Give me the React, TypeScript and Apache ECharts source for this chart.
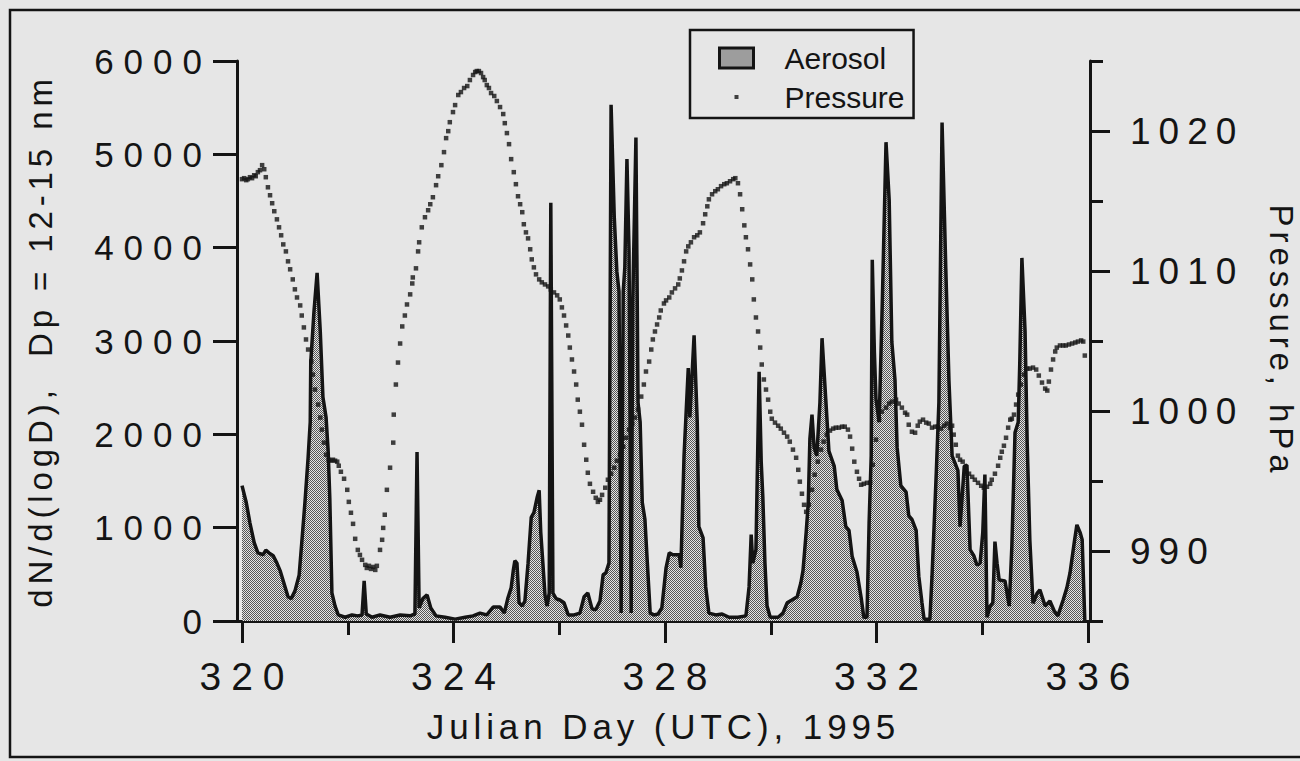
import React, { useEffect, useRef } from 'react';
import * as echarts from 'echarts';

// Aerosol number concentration, dN/d(logD) for Dp = 12-15 nm : [Julian day, value]
const aerosol: [number, number][] = [
  [320.00,1450],[320.08,1270],[320.15,1050],[320.23,840],[320.30,730],[320.40,710],[320.45,760],[320.51,730],[320.59,700],[320.66,620],
  [320.72,540],[320.79,410],[320.87,260],[320.93,240],[321.00,320],[321.08,490],[321.13,840],[321.19,1270],[321.25,1750],[321.29,2130],
  [321.30,2770],[321.36,3310],[321.42,3730],[321.48,3100],[321.53,2400],[321.59,2180],[321.63,1810],[321.66,1320],[321.70,300],[321.76,160],
  [321.82,65],[321.95,40],[322.08,65],[322.19,55],[322.27,65],[322.31,430],[322.35,75],[322.46,40],[322.61,65],[322.80,40],
  [322.99,65],[323.18,55],[323.27,75],[323.31,1810],[323.35,140],[323.42,240],[323.50,280],[323.57,140],[323.67,55],[323.84,40],
  [324.03,20],[324.22,40],[324.37,55],[324.50,85],[324.63,65],[324.75,150],[324.88,150],[324.96,85],[325.03,250],[325.09,355],
  [325.13,540],[325.16,645],[325.20,620],[325.24,195],[325.30,160],[325.35,215],[325.41,620],[325.47,1110],[325.52,1160],[325.58,1320],
  [325.62,1400],[325.65,950],[325.69,620],[325.73,280],[325.77,160],[325.81,300],[325.84,4480],[325.88,300],[325.94,240],[326.01,225],
  [326.09,195],[326.17,65],[326.28,65],[326.39,85],[326.47,260],[326.54,300],[326.62,130],[326.69,120],[326.77,215],[326.83,495],
  [326.88,515],[326.94,620],[326.98,5530],[327.04,4330],[327.09,3740],[327.13,3530],[327.17,85],[327.21,3530],[327.24,3790],[327.28,4950],
  [327.32,3960],[327.36,85],[327.39,3420],[327.45,5180],[327.49,2340],[327.53,2130],[327.57,1270],[327.62,1090],[327.68,480],[327.72,85],
  [327.79,65],[327.87,75],[327.94,140],[328.02,570],[328.08,730],[328.15,710],[328.27,710],[328.30,570],[328.36,1770],[328.44,2710],
  [328.47,2180],[328.55,3060],[328.61,2130],[328.64,1010],[328.72,890],[328.77,365],[328.83,85],[328.96,65],[329.08,75],[329.21,40],
  [329.38,40],[329.53,55],[329.59,365],[329.63,925],[329.66,620],[329.72,765],[329.78,2670],[329.82,1700],[329.85,1330],[329.89,620],
  [329.93,160],[329.99,40],[330.14,40],[330.23,85],[330.31,195],[330.40,225],[330.50,260],[330.57,410],[330.61,540],[330.67,950],
  [330.71,1270],[330.74,1950],[330.78,2210],[330.82,1860],[330.87,1770],[330.93,2340],[330.97,3030],[331.04,2380],[331.10,1820],[331.20,1660],
  [331.25,1410],[331.35,1290],[331.42,1010],[331.48,970],[331.54,690],[331.63,525],[331.71,250],[331.76,40],[331.82,40],[331.86,1050],
  [331.90,1770],[331.92,3870],[331.96,2880],[331.99,2380],[332.05,2130],[332.11,3420],[332.18,5130],[332.24,4510],[332.29,2990],[332.35,2580],
  [332.39,1860],[332.46,1450],[332.56,1380],[332.61,1130],[332.67,1090],[332.75,970],[332.80,480],[332.86,195],[332.90,20],[333.01,20],
  [333.05,480],[333.13,1580],[333.18,2340],[333.24,5340],[333.31,3790],[333.37,2580],[333.43,1770],[333.48,1700],[333.54,1610],[333.58,1010],
  [333.66,1660],[333.71,1670],[333.77,765],[333.84,700],[333.90,600],[333.96,620],[334.01,950],[334.05,1570],[334.09,40],[334.15,160],
  [334.20,195],[334.24,850],[334.28,620],[334.32,440],[334.43,430],[334.51,160],[334.56,800],[334.62,2020],[334.68,2130],[334.71,2770],
  [334.75,3890],[334.81,3100],[334.85,1910],[334.90,870],[334.96,190],[335.04,300],[335.09,335],[335.19,160],[335.28,215],[335.36,110],
  [335.43,55],[335.53,225],[335.60,355],[335.66,515],[335.74,840],[335.79,1030],[335.85,950],[335.89,870],[335.94,0],
];

// Surface pressure, hPa : [Julian day, value]
const pressure: [number, number][] = [
  [320.00,1016.56],[320.04,1016.63],[320.08,1016.49],[320.11,1016.56],[320.15,1016.70],[320.19,1016.63],[320.23,1016.84],[320.26,1016.77],
  [320.30,1017.06],[320.34,1017.20],[320.38,1017.56],[320.42,1017.27],[320.45,1016.70],[320.49,1015.98],[320.53,1015.41],[320.57,1014.84],
  [320.61,1014.27],[320.66,1013.69],[320.70,1013.12],[320.74,1012.55],[320.78,1011.90],[320.83,1011.40],[320.87,1010.69],[320.91,1010.12],
  [320.96,1009.40],[321.00,1008.69],[321.04,1008.11],[321.10,1007.54],[321.13,1006.82],[321.17,1005.97],[321.21,1005.11],[321.25,1004.39],
  [321.31,1003.53],[321.34,1002.60],[321.38,1001.53],[321.44,1000.46],[321.48,999.53],[321.51,998.67],[321.55,997.74],[321.59,996.88],
  [321.64,996.52],[321.68,996.45],[321.72,996.52],[321.76,996.45],[321.80,996.38],[321.83,996.09],[321.87,995.66],[321.93,995.16],
  [321.99,994.37],[322.02,993.51],[322.06,992.73],[322.10,991.94],[322.14,990.87],[322.19,990.08],[322.23,989.72],[322.27,989.37],
  [322.33,989.01],[322.36,988.79],[322.40,988.94],[322.44,988.72],[322.48,988.86],[322.52,988.65],[322.55,988.94],[322.61,990.08],
  [322.65,990.80],[322.67,991.65],[322.70,992.59],[322.74,994.37],[322.80,995.95],[322.86,997.74],[322.87,999.74],[322.91,1001.89],
  [322.95,1003.46],[322.99,1004.82],[323.03,1006.04],[323.08,1006.82],[323.12,1007.61],[323.18,1008.33],[323.22,1009.11],[323.23,1009.54],
  [323.29,1010.19],[323.33,1011.40],[323.35,1012.05],[323.40,1013.12],[323.46,1013.84],[323.52,1014.34],[323.56,1014.77],[323.61,1015.27],
  [323.67,1016.13],[323.71,1016.77],[323.77,1017.56],[323.82,1018.49],[323.86,1019.49],[323.90,1019.99],[323.93,1020.63],[323.99,1021.35],
  [324.03,1021.85],[324.09,1022.57],[324.14,1022.78],[324.20,1023.07],[324.26,1023.21],[324.31,1023.64],[324.37,1024.00],[324.41,1024.21],
  [324.44,1024.28],[324.48,1024.28],[324.52,1024.14],[324.56,1023.85],[324.59,1023.64],[324.63,1023.28],[324.67,1023.07],[324.71,1022.71],
  [324.77,1022.50],[324.82,1022.14],[324.88,1021.71],[324.94,1021.21],[324.97,1020.56],[325.01,1019.85],[325.05,1019.06],[325.09,1017.99],
  [325.14,1017.06],[325.18,1016.20],[325.22,1015.34],[325.26,1014.77],[325.30,1014.20],[325.33,1013.34],[325.37,1012.76],[325.41,1012.33],
  [325.45,1011.55],[325.48,1010.83],[325.52,1010.26],[325.56,1009.76],[325.62,1009.40],[325.67,1009.19],[325.73,1009.04],[325.79,1008.90],
  [325.84,1008.68],[325.90,1008.47],[325.96,1008.26],[326.01,1007.97],[326.05,1007.40],[326.09,1006.82],[326.13,1006.11],[326.17,1005.39],
  [326.20,1004.53],[326.24,1003.68],[326.28,1002.82],[326.32,1001.89],[326.35,1000.81],[326.39,999.95],[326.43,999.02],[326.47,997.59],
  [326.51,996.52],[326.54,995.59],[326.58,994.80],[326.64,994.23],[326.69,993.80],[326.73,993.51],[326.77,993.66],[326.81,994.01],
  [326.87,994.52],[326.92,995.09],[326.98,995.52],[327.04,995.95],[327.09,996.45],[327.15,996.88],[327.21,997.45],[327.26,998.09],
  [327.32,998.67],[327.38,999.10],[327.43,999.53],[327.49,1000.10],[327.55,1001.03],[327.60,1001.89],[327.64,1002.82],[327.70,1003.53],
  [327.74,1004.39],[327.77,1005.11],[327.81,1005.68],[327.85,1006.18],[327.89,1006.68],[327.92,1007.18],[327.98,1007.68],[328.02,1007.90],
  [328.08,1008.11],[328.13,1008.47],[328.19,1008.76],[328.25,1009.04],[328.28,1009.47],[328.32,1010.04],[328.36,1010.69],[328.40,1011.40],
  [328.44,1011.76],[328.49,1012.05],[328.55,1012.41],[328.61,1012.55],[328.66,1012.76],[328.72,1013.41],[328.76,1014.05],[328.80,1014.62],
  [328.83,1015.12],[328.89,1015.48],[328.95,1015.70],[329.00,1015.84],[329.06,1016.06],[329.12,1016.20],[329.17,1016.27],[329.23,1016.41],
  [329.29,1016.56],[329.33,1016.63],[329.38,1016.27],[329.42,1015.48],[329.46,1014.41],[329.50,1013.26],[329.53,1012.41],[329.57,1011.55],
  [329.61,1010.47],[329.65,1009.40],[329.68,1007.97],[329.72,1006.68],[329.76,1005.68],[329.80,1004.53],[329.83,1003.32],[329.87,1002.25],
  [329.91,1001.53],[329.95,1000.81],[329.99,999.95],[330.02,999.45],[330.08,999.17],[330.14,998.95],[330.19,998.74],[330.25,998.45],
  [330.31,998.17],[330.36,997.81],[330.42,997.24],[330.48,996.66],[330.52,995.80],[330.55,994.95],[330.59,994.09],[330.63,993.30],
  [330.67,992.80],[330.72,993.30],[330.78,994.37],[330.83,995.45],[330.89,996.38],[330.95,997.24],[331.00,997.81],[331.06,998.31],
  [331.12,998.60],[331.18,998.74],[331.23,998.81],[331.29,998.81],[331.35,998.88],[331.40,998.88],[331.46,998.67],[331.50,998.17],
  [331.54,997.31],[331.58,996.38],[331.63,995.66],[331.67,995.16],[331.71,994.73],[331.76,994.80],[331.82,994.87],[331.88,994.87],
  [331.93,996.16],[331.99,997.95],[332.05,999.38],[332.10,999.95],[332.18,1000.24],[332.24,1000.53],[332.29,1000.67],[332.37,1000.81],
  [332.42,1000.53],[332.48,1000.24],[332.54,999.88],[332.58,999.74],[332.61,999.02],[332.67,998.52],[332.73,998.45],[332.78,998.95],
  [332.82,999.24],[332.88,999.38],[332.94,999.17],[332.99,999.10],[333.05,998.81],[333.11,998.88],[333.16,998.88],[333.22,998.74],
  [333.28,998.95],[333.33,999.10],[333.39,998.81],[333.43,998.95],[333.46,998.31],[333.50,997.59],[333.54,996.81],[333.58,996.52],
  [333.63,996.38],[333.69,995.95],[333.75,995.52],[333.81,995.30],[333.86,995.09],[333.92,994.87],[333.98,994.66],[334.03,994.52],
  [334.09,994.59],[334.15,994.80],[334.18,995.09],[334.24,995.52],[334.30,996.09],[334.34,996.66],[334.37,997.09],[334.41,997.52],
  [334.45,998.09],[334.49,998.81],[334.53,999.38],[334.56,999.45],[334.60,999.74],[334.64,1000.46],[334.68,1001.17],[334.73,1001.89],
  [334.79,1002.60],[334.85,1003.03],[334.90,1003.03],[334.96,1003.10],[335.02,1002.96],[335.07,1002.53],[335.13,1002.03],[335.19,1001.60],
  [335.23,1001.46],[335.26,1002.10],[335.30,1002.96],[335.34,1003.68],[335.38,1004.25],[335.41,1004.53],[335.47,1004.68],[335.53,1004.68],
  [335.58,1004.68],[335.64,1004.75],[335.70,1004.82],[335.76,1004.89],[335.81,1004.96],[335.87,1005.04],[335.91,1004.96],[335.94,1003.96],
];

const xLabelTicks = [320, 324, 328, 332, 336];
const xMinorTicks = [322, 326, 330, 334];
const pressureLabelTicks = [990, 1000, 1010, 1020];
const pressureMinorTicks = [985, 995, 1005, 1015, 1025];

const INK = '#141414';
const BG = '#e6e6e6';
const TICK_L = "'Liberation Sans', Helvetica, sans-serif";
const TICK_R = "'Liberation Sans', Arial, sans-serif";
const TICK_X = "'Liberation Sans', 'Nimbus Sans', sans-serif";
const TITLE = "'Liberation Sans', FreeSans, sans-serif";
const LEGEND_FONT = "'Liberation Sans', sans-serif";

const css = `
text[style*="Helvetica"] { letter-spacing: 10px; }
text[style*="Arial"] { letter-spacing: 8px; }
text[style*="Nimbus"] { letter-spacing: 10px; }
text[style*="FreeSans"] { letter-spacing: 4.9px; }
`;

const plain = (v: number) => String(v);

function stipple(): string {
  const c = document.createElement('canvas');
  c.width = 2;
  c.height = 2;
  const ctx = c.getContext('2d')!;
  ctx.fillStyle = '#e4e4e4';
  ctx.fillRect(0, 0, 2, 2);
  ctx.fillStyle = '#555555';
  ctx.fillRect(0, 0, 1, 1);
  ctx.fillRect(1, 1, 1, 1);
  return c.toDataURL();
}

export default function App() {
  const ref = useRef<HTMLDivElement>(null);
  useEffect(() => {
    if (!ref.current) return;
    const chart = echarts.init(ref.current, null, { renderer: 'svg' });
    const pattern: any = { image: stipple(), repeat: 'repeat', imageWidth: 2, imageHeight: 2 };
    const axisLine = { color: INK, width: 3 };
    const xMin = 319.905;
    const xMax = 336.038;
    chart.setOption({
      animation: false,
      backgroundColor: 'transparent',
      grid: { left: 237, right: 210, top: 61, bottom: 140, containLabel: false, outerBoundsMode: 'none' },
      legend: {
        orient: 'vertical',
        left: 690,
        top: 30,
        itemWidth: 34,
        itemHeight: 20,
        itemGap: 9,
        padding: [13, 9, 6, 28],
        borderColor: INK,
        borderWidth: 2.5,
        selectedMode: false,
        textStyle: { fontSize: 30, fontFamily: LEGEND_FONT, color: INK, padding: [0, 0, 0, 26] },
        data: [
          { name: 'Aerosol', icon: 'rect', itemStyle: { color: pattern, borderColor: INK, borderWidth: 3 } },
          { name: 'Pressure', icon: 'path://M0 0M34 20M15 8h4v4h-4z', itemStyle: { color: INK, borderWidth: 0 } },
        ],
      },
      xAxis: [
        {
          type: 'value', min: xMin, max: xMax, position: 'bottom',
          axisLine: { show: true, onZero: false, lineStyle: axisLine },
          axisTick: { show: true, customValues: xLabelTicks, length: 22, lineStyle: axisLine },
          axisLabel: { customValues: xLabelTicks, formatter: plain, fontSize: 39, fontFamily: TICK_X, color: INK, margin: 36, padding: [0, 0, 0, 10] },
          splitLine: { show: false },
          name: 'Julian Day (UTC), 1995', nameLocation: 'middle', nameGap: 88,
          nameTextStyle: { fontSize: 35, fontFamily: TITLE, color: INK },
        },
        {
          type: 'value', min: xMin, max: xMax, position: 'bottom',
          axisLine: { show: false, onZero: false },
          axisTick: { show: true, customValues: xMinorTicks, length: 14, lineStyle: axisLine },
          axisLabel: { show: false },
          splitLine: { show: false },
        },
      ],
      yAxis: [
        {
          type: 'value', min: 0, max: 6000, interval: 1000, position: 'left',
          axisLine: { show: true, onZero: false, lineStyle: axisLine },
          axisTick: { show: true, length: 24, lineStyle: axisLine },
          axisLabel: { formatter: plain, fontSize: 35, fontFamily: TICK_L, color: INK, margin: 25 },
          splitLine: { show: false },
          name: 'dN/d(logD),  Dp = 12-15 nm', nameLocation: 'middle', nameRotate: 90, nameGap: 180,
          nameTextStyle: { fontSize: 33, fontFamily: TITLE, color: INK },
        },
        {
          type: 'value', min: 985, max: 1025, position: 'right',
          axisLine: { show: true, onZero: false, lineStyle: axisLine },
          axisTick: { show: true, customValues: pressureLabelTicks, length: 20, lineStyle: axisLine },
          axisLabel: { customValues: pressureLabelTicks, formatter: plain, fontSize: 37, fontFamily: TICK_R, color: INK, margin: 40 },
          splitLine: { show: false },
          name: 'Pressure, hPa', nameLocation: 'middle', nameRotate: -90, nameGap: 175,
          nameTextStyle: { fontSize: 33, fontFamily: TITLE, color: INK },
        },
        {
          type: 'value', min: 985, max: 1025, position: 'right',
          axisLine: { show: false, onZero: false },
          axisTick: { show: true, customValues: pressureMinorTicks, length: 13, lineStyle: axisLine },
          axisLabel: { show: false },
          splitLine: { show: false },
        },
      ],
      series: [
        {
          name: 'Aerosol', type: 'line', xAxisIndex: 0, yAxisIndex: 0, data: aerosol,
          symbol: 'none', showSymbol: false,
          lineStyle: { color: INK, width: 3.5 },
          itemStyle: { color: INK },
          areaStyle: { color: pattern, opacity: 1 },
          z: 2,
        },
        {
          name: 'Pressure', type: 'scatter', xAxisIndex: 0, yAxisIndex: 1, data: pressure,
          symbol: 'rect', symbolSize: 4.5,
          itemStyle: { color: INK },
          z: 3,
        },
      ],
      graphic: [
        {
          type: 'rect', silent: true, z: -10,
          shape: { x: 10, y: 10, width: 1310, height: 747 },
          style: { fill: 'none', stroke: INK, lineWidth: 2.5 },
        },
      ],
    });
    return () => chart.dispose();
  }, []);
  return (
    <div style={{ position: 'absolute', left: 0, top: 0, width: 1300, height: 761, background: BG }}>
      <style>{css}</style>
      <div ref={ref} style={{ width: 1300, height: 761 }} />
    </div>
  );
}
